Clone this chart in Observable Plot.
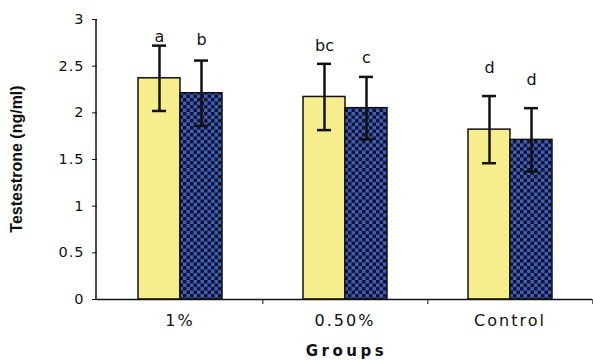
<!DOCTYPE html>
<html><head><meta charset="utf-8">
<script src="https://cdn.jsdelivr.net/npm/d3@7"></script>
<script src="https://cdn.jsdelivr.net/npm/@observablehq/plot@0.6"></script>
<style>body{margin:0;background:#fff} svg{display:block}</style>
</head><body><div id="chart"></div>
<script>
const groups = ["1%", "0.50%", "Control"];
const seriesNames = ["Series 1", "Series 2"];
const yellowMean = [2.37, 2.17, 1.82];
const yellowErr = [0.35, 0.355, 0.36];
const blueMean = [2.21, 2.05, 1.71];
const blueErr = [0.35, 0.335, 0.34];
const yellowLetters = ["a", "bc", "d"];
const blueLetters = ["b", "c", "d"];
const yellowLetterY = [2.81, 2.72, 2.48];
const blueLetterY = [2.78, 2.59, 2.35];
const yTicks = [0, 0.5, 1, 1.5, 2, 2.5, 3];
const yTickLabels = ["0", "0.5", "1", "1.5", "2", "2.5", "3"];
const yLabel = "Testestrone (ng/ml)";
const xLabel = "Groups";

const rows = [];
groups.forEach((g, i) => {
  rows.push({group: g, series: seriesNames[0], mean: yellowMean[i], err: yellowErr[i], letter: yellowLetters[i], ly: yellowLetterY[i]});
  rows.push({group: g, series: seriesNames[1], mean: blueMean[i], err: blueErr[i], letter: blueLetters[i], ly: blueLetterY[i]});
});

const W = 593, H = 360, mL = 96, mR = 0, mT = 19, mB = 61;
const facetStep = (W - mL - mR) / groups.length;

const chart = Plot.plot({
  width: W, height: H,
  marginTop: mT, marginBottom: mB, marginLeft: mL, marginRight: mR,
  style: {fontFamily: "DejaVu Sans", fontSize: "14px", color: "#111", background: "#fff"},
  fx: {domain: groups, padding: 0},
  x: {domain: seriesNames, paddingInner: 0, paddingOuter: 0.95, axis: null},
  y: {domain: [0, 3]},
  color: {domain: seriesNames, range: ["#f6ee8c", "url(#checker)"]},
  marks: [
    Plot.barY(rows, {fx: "group", x: "series", y: "mean", fill: "series", stroke: "#111", strokeWidth: 1.5}),
    Plot.ruleX(rows, {fx: "group", x: "series", y1: d => d.mean - d.err, y2: d => d.mean + d.err, stroke: "#111", strokeWidth: 2.5}),
    Plot.tickY(rows, {fx: "group", x: "series", y: d => d.mean + d.err, insetLeft: 14, insetRight: 14, stroke: "#111", strokeWidth: 2.5}),
    Plot.tickY(rows, {fx: "group", x: "series", y: d => d.mean - d.err, insetLeft: 14, insetRight: 14, stroke: "#111", strokeWidth: 2.5}),
    Plot.text(rows, {fx: "group", x: "series", y: "ly", text: "letter", fontSize: 16, fill: "#111"}),
    Plot.ruleY([0], {stroke: "#111", strokeWidth: 1.5}),
    Plot.axisY({ticks: yTicks, tickFormat: d => yTickLabels[yTicks.indexOf(d)], tickSize: 5, tickPadding: 8, label: null, fontSize: 14.5}),
    Plot.axisFx({anchor: "bottom", tickSize: 0, tickPadding: 15, label: null, fontSize: 16}),
    Plot.axisFx({anchor: "bottom", tickSize: 5, tickFormat: () => "", dx: facetStep / 2, label: null})
  ]
});

const svg = d3.select(chart);
const defs = svg.insert("defs", ":first-child");
const p = defs.append("pattern").attr("id", "checker").attr("patternUnits", "userSpaceOnUse").attr("width", 7).attr("height", 7);
p.append("rect").attr("width", 7).attr("height", 7).attr("fill", "#3b5ec6");
p.append("rect").attr("width", 3.5).attr("height", 3.5).attr("fill", "#141420");
p.append("rect").attr("x", 3.5).attr("y", 3.5).attr("width", 3.5).attr("height", 3.5).attr("fill", "#141420");

const yScale = chart.scale("y");
// y axis line
svg.append("line").attr("x1", mL).attr("x2", mL).attr("y1", yScale.apply(0)).attr("y2", yScale.apply(3))
  .attr("stroke", "#111").attr("stroke-width", 1.5);

// axis titles
const plotMidY = (yScale.apply(0) + yScale.apply(3)) / 2;
svg.append("text").text(yLabel)
  .attr("transform", `translate(16,${plotMidY}) rotate(-90)`)
  .attr("text-anchor", "middle").attr("dominant-baseline", "central")
  .attr("font-family", "'Liberation Sans Narrow', 'Liberation Sans'").attr("font-weight", "bold").attr("font-size", 16)
  .attr("fill", "#111");
svg.append("text").text(xLabel)
  .attr("x", mL + (W - mL - mR) / 2 + 2).attr("y", 356)
  .attr("text-anchor", "middle")
  .attr("font-family", "DejaVu Sans").attr("font-weight", "bold").attr("font-size", 15)
  .attr("letter-spacing", "3.5px").attr("fill", "#111");

svg.selectAll("[aria-label='y-axis tick label'] text").attr("letter-spacing", "1px");
svg.selectAll("[aria-label='fx-axis tick label'] text").attr("letter-spacing", "2px");

document.getElementById("chart").appendChild(chart);
</script>
</body></html>
